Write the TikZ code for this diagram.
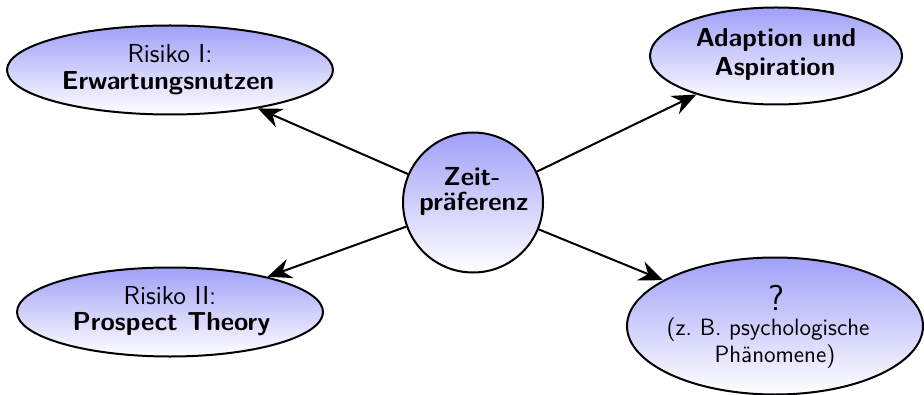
\documentclass[tikz,border=0pt]{standalone}
\usepackage{fontspec}
\usetikzlibrary{shapes.geometric,arrows.meta}
\definecolor{bubbletop}{RGB}{160,160,248}
\tikzset{
  x=0.5pt, y=-0.5pt,
  bubble/.style={ellipse, draw=black, line width=1pt, top color=bubbletop, bottom color=white, inner sep=0pt},
  hub/.style={circle, draw=black, line width=1pt, top color=bubbletop, bottom color=white,
    inner sep=0pt, minimum size=70pt},
  txt/.style={anchor=base, inner sep=0pt, font=\fontsize{13}{13.5}\selectfont\sffamily},
  btxt/.style={txt, font=\fontsize{13}{13.5}\selectfont\sffamily\bfseries},
  stxt/.style={txt, font=\fontsize{11.8}{13.5}\selectfont\sffamily},
  qtxt/.style={txt, font=\fontsize{18}{18}\selectfont\sffamily},
  conn/.style={-{Stealth[length=12pt,width=10pt,inset=4pt]}, line width=1pt}
}
\begin{document}
\begin{tikzpicture}
\useasboundingbox (0,0) rectangle (924,395);
\node[bubble, minimum width=163pt, minimum height=44.5pt] (r1) at (170,70) {};
\node[bubble, minimum width=126pt, minimum height=48.5pt] (ad) at (776,56) {};
\node[bubble, minimum width=153pt, minimum height=44.5pt] (r2) at (170,312) {};
\node[bubble, minimum width=148pt, minimum height=68.5pt] (q) at (775,326) {};
\node[hub] (c) at (473,202.5) {};
\node[txt]  (r1a) at (170,63) {Risiko I:};
\node[btxt] (r1b) at (168,90) {Erwartungsnutzen};
\node[btxt] (ada) at (776,47) {Adaption und};
\node[btxt] (adb) at (775,76) {Aspiration};
\node[txt]  (r2a) at (170,304) {Risiko II:};
\node[btxt] (r2b) at (171.5,330) {Prospect Theory};
\node[btxt] (ca) at (472,185) {Zeit-};
\node[btxt] (cb) at (474,210) {präferenz};
\node[qtxt] (qa) at (776,310) {?};
\node[stxt] (qb) at (768,335) {(z.~B. psychologische};
\node[stxt] (qc) at (775,362) {Phänomene)};
\draw[conn] (c) -- (r1);
\draw[conn] (c) -- (ad);
\draw[conn] (c) -- (r2);
\draw[conn] (c) -- (q);
\end{tikzpicture}
\end{document}
